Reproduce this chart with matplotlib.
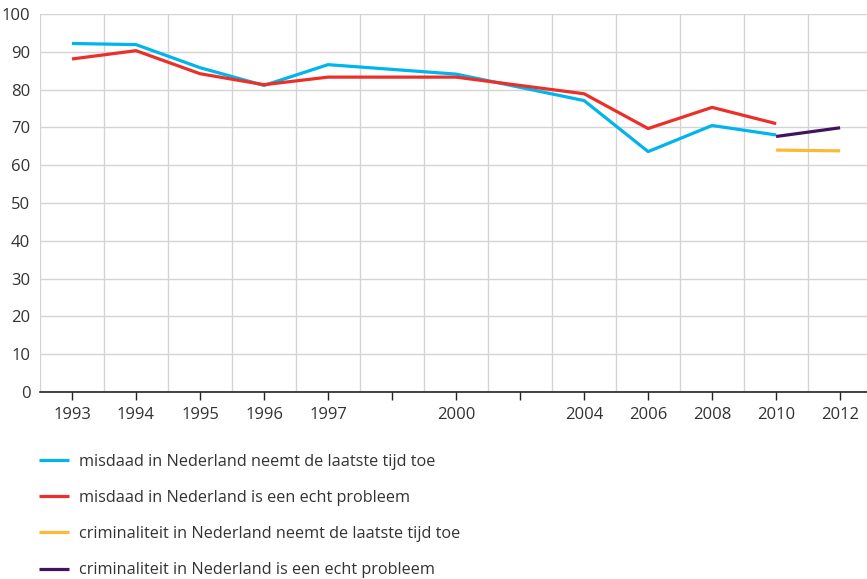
import numpy as np
import matplotlib.pyplot as plt

plt.rcParams['font.family'] = ['Open Sans', 'DejaVu Sans']

# Category slots on the x axis ('' = unlabeled slot)
categories = ['1993', '1994', '1995', '1996', '1997', '', '2000', '', '2004',
              '2006', '2008', '2010', '2012']

years_old = ['1993', '1994', '1995', '1996', '1997', '2000', '2004', '2006', '2008', '2010']
misdaad_toe = [92.2, 91.9, 85.8, 81.1, 86.6, 84.1, 77.1, 63.6, 70.5, 68.0]
misdaad_probleem = [88.1, 90.3, 84.2, 81.3, 83.3, 83.3, 78.9, 69.7, 75.3, 71.0]

years_new = ['2010', '2012']
crim_toe = [64.0, 63.8]
crim_probleem = [67.6, 69.9]

labels = ['misdaad in Nederland neemt de laatste tijd toe',
          'misdaad in Nederland is een echt probleem',
          'criminaliteit in Nederland neemt de laatste tijd toe',
          'criminaliteit in Nederland is een echt probleem']
colors = ['#00b4ec', '#ec2f29', '#fbb934', '#42145f']

TEXT_COLOR = '#333333'
GRID_COLOR = '#d4d4d4'

fig = plt.figure(figsize=(8.67, 5.79), dpi=100)
ax = fig.add_axes([40 / 867, 1 - 392 / 579, 1 - 40 / 867, (392 - 14) / 579])

pos_old = [categories.index(y) for y in years_old]
pos_new = [categories.index(y) for y in years_new]

series = [(pos_old, misdaad_toe), (pos_old, misdaad_probleem),
          (pos_new, crim_toe), (pos_new, crim_probleem)]
for (pos, vals), lab, col in zip(series, labels, colors):
    ax.plot(pos, vals, color=col, lw=2.3, label=lab, solid_capstyle='butt', zorder=3)

ax.set_yticks(np.arange(0, 101, 10))
ax.set_xticks(np.arange(len(categories)))
ax.set_xticklabels(categories)
ax.set_xticks(np.arange(-0.5, len(categories), 1), minor=True)
# limits after the ticks, so the minor ticks don't widen the view
ax.set_ylim(0, 100)
ax.set_xlim(-0.5, 12.42)

ax.grid(axis='y', which='major', color=GRID_COLOR, lw=1.0)
ax.grid(axis='x', which='minor', color=GRID_COLOR, lw=1.0)
ax.set_axisbelow(True)

for side in ['top', 'right', 'left']:
    ax.spines[side].set_visible(False)
ax.spines['bottom'].set_color('#222222')
ax.spines['bottom'].set_linewidth(1.2)
ax.spines['bottom'].set_zorder(4)

ax.tick_params(axis='x', which='major', direction='out', length=6, width=1,
               color='#222222', labelsize=12, labelcolor=TEXT_COLOR, pad=5)
ax.tick_params(axis='x', which='minor', length=0)
ax.tick_params(axis='y', length=0, labelsize=12, labelcolor=TEXT_COLOR, pad=7)

leg = ax.legend(loc='upper left', bbox_to_anchor=(32 / 867, 1 - 447 / 579),
                bbox_transform=fig.transFigure, frameon=False, fontsize=11.7,
                handlelength=1.9, handletextpad=0.6, labelspacing=1.25,
                borderaxespad=0)
for t in leg.get_texts():
    t.set_color(TEXT_COLOR)

fig.savefig('out.png', dpi=100)
